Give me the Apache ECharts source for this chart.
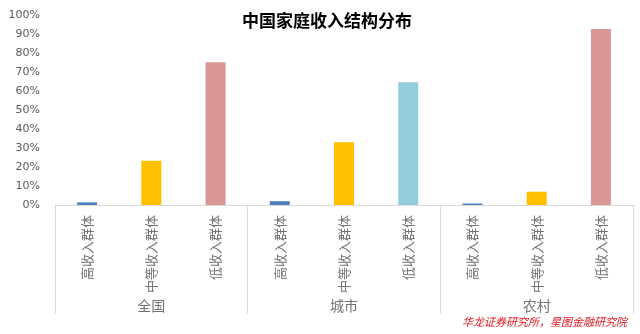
<!DOCTYPE html>
<html>
<head>
<meta charset="utf-8">
<script src="https://cdn.jsdelivr.net/npm/echarts@6/dist/echarts.min.js"></script>
<style>html,body{margin:0;padding:0;background:#fff;}#c{width:640px;height:334px;}</style>
</head>
<body>
<div id="c"></div>
<script>
var groups = ['全国', '城市', '农村'];
var incomeLevels = ['高收入群体', '中等收入群体', '低收入群体'];
var nationalShare = [1.4, 23.3, 75.1];
var urbanShare = [2.0, 33.0, 64.6];
var ruralShare = [0.8, 7.0, 92.6];
var groupValues = [nationalShare, urbanShare, ruralShare];
var levelColors = ['#4F81BD', '#FFC000', '#D99694'];
var urbanLowColor = '#93CDDD';

var subCats = [];
var barData = [];
groups.forEach(function (g, gi) {
  incomeLevels.forEach(function (lv, li) {
    subCats.push(lv);
    var color = levelColors[li];
    if (gi === 1 && li === 2) color = urbanLowColor;
    barData.push({ value: groupValues[gi][li], itemStyle: { color: color } });
  });
});

var chart = echarts.init(document.getElementById('c'), null, { renderer: 'canvas' });
chart.setOption({
  animation: false,
  backgroundColor: '#ffffff',
  title: {
    text: '中国家庭收入结构分布',
    left: 237,
    top: 7,
    textStyle: { fontFamily: 'Noto Sans CJK SC', fontWeight: 'bold', fontSize: 17, color: '#000' }
  },
  grid: { left: 55, right: 7, top: 15, bottom: 129, containLabel: false },
  xAxis: [
    {
      type: 'category',
      data: subCats,
      position: 'bottom',
      axisLine: { show: true, lineStyle: { color: '#D9D9D9', width: 1 } },
      axisTick: { show: false },
      axisLabel: {
        interval: 0,
        rotate: 90,
        margin: 10,
        fontSize: 13,
        color: '#737373',
        fontFamily: 'Noto Sans CJK SC'
      }
    },
    {
      type: 'category',
      data: groups,
      position: 'bottom',
      axisLine: { show: false },
      axisTick: { show: true, interval: 0, length: 109, lineStyle: { color: '#D9D9D9', width: 1 } },
      axisLabel: {
        interval: 0,
        margin: 94,
        fontSize: 14,
        color: '#737373',
        fontFamily: 'Noto Sans CJK SC'
      }
    }
  ],
  yAxis: {
    type: 'value',
    min: 0,
    max: 100,
    interval: 10,
    axisLine: { show: false },
    axisTick: { show: false },
    splitLine: { show: false },
    axisLabel: {
      formatter: '{value}%',
      margin: 15,
      fontSize: 11,
      color: '#595959',
      fontFamily: 'DejaVu Sans'
    }
  },
  series: [
    {
      type: 'bar',
      xAxisIndex: 0,
      yAxisIndex: 0,
      barWidth: 20,
      data: barData
    }
  ],
  graphic: [
    {
      type: 'text',
      right: 13,
      top: 316,
      style: {
        text: '华龙证券研究所，星图金融研究院',
        fill: '#E3141B',
        font: 'italic 11px "Noto Sans CJK SC"'
      }
    }
  ]
});
</script>
</body>
</html>
